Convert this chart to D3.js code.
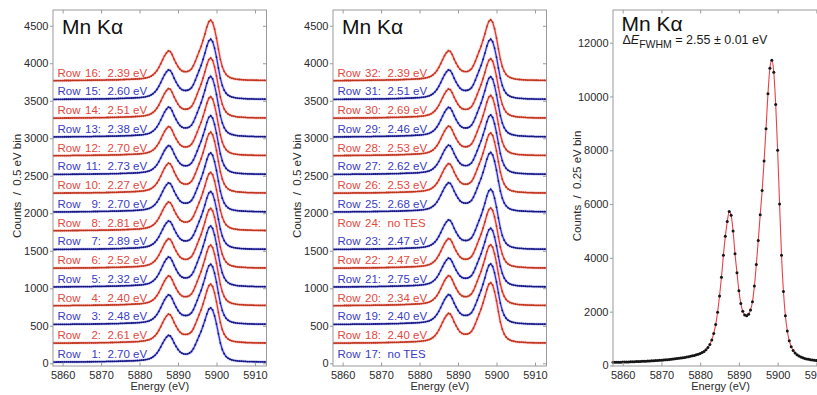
<!DOCTYPE html>
<html>
<head>
<meta charset="utf-8">
<script src="https://cdnjs.cloudflare.com/ajax/libs/d3/7.8.5/d3.min.js"></script>
<style>
  html, body { margin: 0; padding: 0; background: #fff; }
  svg { display: block; font-family: "Liberation Sans", Arial, Helvetica, sans-serif; }
</style>
</head>
<body>
<svg id="chart" width="817" height="395"></svg>
<script>
// Energy bins (eV), 0.5 eV wide
const binStart = 5857.5;
const binWidth = 0.5;

// Typical single-row spectrum, counts per 0.5 eV bin
const rowProfile = [
  18, 18, 19, 19, 19, 19, 20, 20, 20, 20,
  21, 21, 21, 21, 22, 22, 22, 22, 23, 23,
  23, 24, 24, 24, 25, 25, 26, 26, 27, 27,
  28, 28, 29, 29, 30, 31, 32, 33, 34, 35,
  36, 37, 38, 40, 41, 43, 46, 49, 53, 59,
  66, 78, 95, 118, 150, 192, 242, 296, 347, 386,
  413, 403, 361, 300, 249, 204, 169, 149, 139, 137,
  140, 152, 174, 216, 274, 339, 406, 471, 551, 636,
  730, 799, 820, 788, 702, 581, 437, 301, 205, 141,
  100, 75, 60, 50, 44, 39, 35, 33, 31, 29,
  28, 26, 25, 25, 24, 23, 23, 22, 22, 22, 21, 21
];

// Summed spectrum of all rows, counts per 0.25 eV bin (sampled every 0.5 eV)
const sumCounts = [
  115, 117, 119, 121, 123, 125, 127, 130, 132, 135,
  137, 140, 143, 146, 149, 152, 156, 159, 163, 167,
  171, 175, 180, 185, 190, 196, 202, 208, 215, 222,
  230, 238, 247, 256, 266, 277, 288, 300, 313, 327,
  342, 358, 375, 395, 418, 445, 478, 520, 580, 665,
  780, 950, 1190, 1520, 1980, 2580, 3280, 4100, 4800, 5350,
  5720, 5580, 5000, 4150, 3450, 2780, 2300, 2020, 1880, 1850,
  1900, 2060, 2370, 2950, 3750, 4650, 5600, 6500, 7600, 8800,
  10100, 11050, 11350, 10900, 9700, 8000, 6000, 4100, 2750, 1850,
  1280, 920, 700, 560, 465, 400, 352, 315, 286, 262,
  243, 227, 214, 203, 194, 186, 179, 173, 168, 163, 159, 155
];

// Per-row energy resolution (eV) and Kα1 peak height, rows 1..32 (null = no TES)
const rowResolution = [
  "2.70", "2.61", "2.48", "2.40", "2.32", "2.52", "2.89", "2.81",
  "2.70", "2.27", "2.73", "2.70", "2.38", "2.51", "2.60", "2.39",
  null, "2.40", "2.40", "2.34", "2.75", "2.47", "2.47", null,
  "2.68", "2.53", "2.62", "2.53", "2.46", "2.69", "2.51", "2.39"
];
const rowPeak = [
  740, 805, 820, 825, 830, 815, 790, 795,
  805, 830, 800, 805, 825, 820, 820, 825,
  null, 825, 825, 830, 800, 820, 820, null,
  810, 820, 810, 820, 820, 810, 820, 830
];

const energyTicks = [5860, 5870, 5880, 5890, 5900, 5910];
const rowCountTicks = [0, 500, 1000, 1500, 2000, 2500, 3000, 3500, 4000, 4500];
const sumCountTicks = [0, 2000, 4000, 6000, 8000, 10000, 12000];

const rowOffsetStep = 250;
const energies = rowProfile.map((_, i) => binStart + i * binWidth);

const RED = '#e8342c', BLUE = '#2c2ed8';
const RED_TEXT = '#e4483e', BLUE_TEXT = '#3a3cc4';
const FRAME = '#9a9a9a';

const svg = d3.select('#chart');
const plotTop = 10, plotBottom = 366;
const fmt = d3.format('d');

function drawFrame(g, x, y, xTicks, yTicks) {
  const [x0, x1] = x.range();
  const [y0, y1] = y.range();

  // left axis: labels + outward ticks
  const left = g.append('g').attr('transform', `translate(${x0},0)`)
    .call(d3.axisLeft(y).tickValues(yTicks).tickFormat(fmt).tickSize(3).tickPadding(1.5));
  left.select('.domain').remove();
  left.selectAll('line').attr('stroke', FRAME);
  left.selectAll('text').attr('fill', '#2a2a2a').style('font-size', '11px');

  // bottom axis: labels + inward ticks
  const bot = g.append('g').attr('transform', `translate(0,${y0})`)
    .call(d3.axisBottom(x).tickValues(xTicks).tickFormat(fmt).tickSize(-3.5).tickPadding(5));
  bot.select('.domain').remove();
  bot.selectAll('line').attr('stroke', FRAME);
  bot.selectAll('text').attr('fill', '#2a2a2a').style('font-size', '11px');

  // top / right: inward ticks only
  const topAx = g.append('g').attr('transform', `translate(0,${y1})`)
    .call(d3.axisTop(x).tickValues(xTicks).tickSize(-3.5).tickFormat(''));
  topAx.select('.domain').remove();
  topAx.selectAll('line').attr('stroke', FRAME);

  const right = g.append('g').attr('transform', `translate(${x1},0)`)
    .call(d3.axisRight(y).tickValues(yTicks).tickSize(-3.5).tickFormat(''));
  right.select('.domain').remove();
  right.selectAll('line').attr('stroke', FRAME);

  g.append('rect')
    .attr('x', x0).attr('y', y1)
    .attr('width', x1 - x0).attr('height', y0 - y1)
    .attr('fill', 'none').attr('stroke', FRAME).attr('stroke-width', 1);
}

function drawLabels(g, x0, x1, yLabel) {
  g.append('text')
    .attr('transform', `translate(${x0 - 32},186) rotate(-90)`)
    .attr('text-anchor', 'middle')
    .attr('fill', '#2a2a2a')
    .style('font-size', '11.5px')
    .style('white-space', 'pre')
    .text(yLabel);

  g.append('text')
    .attr('x', (x0 + x1) / 2).attr('y', 389.5)
    .attr('text-anchor', 'middle')
    .attr('fill', '#2a2a2a')
    .style('font-size', '11px')
    .text('Energy (eV)');
}

function drawTitle(g, x0, baseline) {
  g.append('text')
    .attr('x', x0 + 9).attr('y', baseline)
    .attr('fill', '#111')
    .style('font-size', '21px')
    .text('Mn K\u03B1');
}

function drawRowPanel(x0, rows, clipId) {
  const g = svg.append('g');
  const x = d3.scaleLinear().domain([5857.5, 5913]).range([x0, x0 + 213.5]);
  const y = d3.scaleLinear().domain([-36, 4710]).range([plotBottom, plotTop]);

  g.append('clipPath').attr('id', clipId)
    .append('rect').attr('x', x0).attr('y', plotTop)
    .attr('width', 213.5).attr('height', plotBottom - plotTop);

  const plot = g.append('g').attr('clip-path', `url(#${clipId})`);
  const line = d3.line().x(d => x(d[0])).y(d => y(d[1]));

  rows.forEach((row, k) => {
    const idx = row - 1;
    const even = row % 2 === 0;
    const col = even ? RED : BLUE;
    const offset = k * rowOffsetStep;

    if (rowPeak[idx] != null) {
      const pts = energies.map((e, i) => [e, offset + rowProfile[i] * rowPeak[idx] / 820]);
      plot.append('path').datum(pts)
        .attr('d', line).attr('fill', 'none')
        .attr('stroke', col).attr('stroke-opacity', 0.18).attr('stroke-width', 3.2);
      plot.append('path').datum(pts)
        .attr('d', line).attr('fill', 'none')
        .attr('stroke', col).attr('stroke-width', 1.3);
      plot.append('g').selectAll('circle').data(pts).join('circle')
        .attr('cx', d => x(d[0])).attr('cy', d => y(d[1]))
        .attr('r', 0.9)
        .attr('fill', even ? '#b5371c' : '#14166e');
    }

    const ty = y(offset) - 5.5;
    const tc = even ? RED_TEXT : BLUE_TEXT;
    const lab = g.append('g').attr('fill', tc).style('font-size', '11.5px');
    lab.append('text').attr('x', x0 + 4.5).attr('y', ty).text('Row');
    lab.append('text').attr('x', x0 + 48).attr('y', ty).attr('text-anchor', 'end').text(`${row}:`);
    lab.append('text').attr('x', x0 + 54.5).attr('y', ty)
      .text(rowResolution[idx] == null ? 'no TES' : `${rowResolution[idx]} eV`);
  });

  drawFrame(g, x, y, energyTicks, rowCountTicks);
  drawTitle(g, x0, 34);
  drawLabels(g, x0, x0 + 213.5, 'Counts  /  0.5 eV bin');
}

drawRowPanel(53, d3.range(1, 17), 'clipA');
drawRowPanel(333, d3.range(17, 33), 'clipB');

// Summed spectrum panel
{
  const x0 = 613;
  const g = svg.append('g');
  const x = d3.scaleLinear().domain([5857.5, 5913]).range([x0, x0 + 215]);
  const y = d3.scaleLinear().domain([-20, 13215]).range([plotBottom, plotTop]);
  const pts = energies.map((e, i) => [e, sumCounts[i]]);

  g.append('path').datum(pts)
    .attr('d', d3.line().x(d => x(d[0])).y(d => y(d[1])).curve(d3.curveMonotoneX))
    .attr('fill', 'none').attr('stroke', '#e8404a').attr('stroke-width', 1.1);

  g.append('g').selectAll('circle').data(pts).join('circle')
    .attr('cx', d => x(d[0])).attr('cy', d => y(d[1]))
    .attr('r', 1.5).attr('fill', '#151515');

  drawFrame(g, x, y, energyTicks, sumCountTicks);
  drawTitle(g, x0 - 0.5, 31);

  const sub = g.append('text')
    .attr('x', x0 + 9.5).attr('y', 43.5)
    .attr('fill', '#1a1a1a')
    .style('font-size', '12.5px');
  sub.append('tspan').text('\u0394');
  sub.append('tspan').style('font-style', 'italic').text('E');
  sub.append('tspan').attr('dy', 4).style('font-size', '10.5px').text('FWHM');
  sub.append('tspan').attr('dy', -4).style('white-space', 'pre').text(' = 2.55 \u00B1 0.01 eV');

  drawLabels(g, x0, x0 + 215, 'Counts  /  0.25 eV bin');
}
</script>
</body>
</html>
